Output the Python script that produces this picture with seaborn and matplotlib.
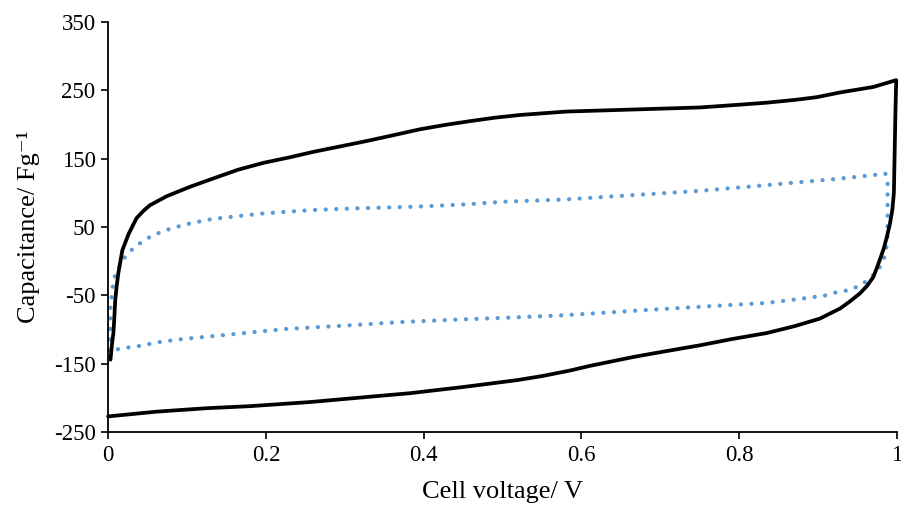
import numpy as np
import matplotlib
matplotlib.use("Agg")
import matplotlib.pyplot as plt
import seaborn as sns
import pandas as pd

# curva preta (linha cheia)
preto_v = [0.003, 0.005, 0.0067, 0.008, 0.009, 0.011, 0.013, 0.018, 0.026, 0.036, 0.045, 0.053,
           0.066, 0.074, 0.091, 0.104, 0.133, 0.165, 0.197, 0.23, 0.26, 0.324, 0.36, 0.395,
           0.43, 0.459, 0.49, 0.522, 0.581, 0.666, 0.75, 0.8, 0.835, 0.87, 0.898, 0.928,
           0.97, 0.999,
           0.998, 0.997, 0.996, 0.994, 0.991, 0.987, 0.983, 0.979, 0.975, 0.97, 0.962, 0.953,
           0.94, 0.928, 0.902, 0.87, 0.835, 0.79, 0.75, 0.7, 0.666, 0.611, 0.585, 0.55,
           0.518, 0.45, 0.383, 0.324, 0.256, 0.18, 0.125, 0.062, 0.0]
preto_c = [-144, -120, -105, -80, -57, -35, -17, 16, 40, 63, 74, 82,
           90, 95, 103, 109, 121, 134, 144, 152, 160, 175, 184, 193,
           200, 205, 210, 214, 219, 222, 225, 229, 232, 236, 240, 247,
           255, 265,
           220, 160, 100, 75, 55, 35, 18, 5, -8, -23, -36, -47,
           -59, -69, -84, -95, -105, -114, -123, -133, -140, -153, -160, -168,
           -174, -184, -193, -199, -206, -212, -215, -220, -227]

# curva azul (pontilhada)
azul_v = [0.002, 0.0025, 0.003, 0.006, 0.009, 0.015, 0.022, 0.032, 0.043, 0.055, 0.067, 0.08,
          0.091, 0.106, 0.133, 0.197, 0.26, 0.311, 0.387, 0.45, 0.501, 0.581, 0.666, 0.75,
          0.835, 0.917, 0.97, 0.985, 0.988, 0.988, 0.988, 0.988, 0.988, 0.988, 0.987, 0.985,
          0.98, 0.972, 0.962, 0.952, 0.94, 0.921, 0.9075, 0.87, 0.835, 0.75, 0.666, 0.581,
          0.505, 0.45, 0.37, 0.302, 0.226, 0.159, 0.093, 0.066, 0.039, 0.026, 0.0127, 0.002]
azul_c = [-130, -115, -67, -36, -20, -6, 7.5, 19, 28.5, 37, 42.7, 48,
          51.5, 56, 62, 70, 75, 77.3, 79.7, 83, 87, 90.5, 96.8, 103,
          111.4, 119.7, 126, 128.5, 122, 104, 87, 72, 56, 38, 24, 9,
          -5.6, -18, -28.6, -36, -42, -46, -50.5, -56, -61, -66.6, -72.5, -78.8,
          -82.7, -85, -89, -94, -99, -106.6, -114, -118, -124, -126, -128.6, -130]

x_ticks = [0, 0.2, 0.4, 0.6, 0.8, 1]
x_labels = ["0", "0.2", "0.4", "0.6", "0.8", "1"]
y_ticks = [-250, -150, -50, 50, 150, 250, 350]

df_preto = pd.DataFrame({"v": preto_v, "c": preto_c})
df_azul = pd.DataFrame({"v": azul_v, "c": azul_c})

sns.set_style("ticks")
plt.rcParams["font.family"] = ["Liberation Serif", "DejaVu Serif"]
plt.rcParams["axes.unicode_minus"] = False

fig = plt.figure(figsize=(9.01, 5.12), dpi=100)
ax = fig.add_axes([0.12, 0.156, 0.8756, 0.801])

sns.lineplot(data=df_azul, x="v", y="c", sort=False, estimator=None, ax=ax,
             color="#5B9BD5", linewidth=3.1, linestyle=(0, (0.01, 2.45)),
             dash_capstyle="round", clip_on=False)
sns.lineplot(data=df_preto, x="v", y="c", sort=False, estimator=None, ax=ax,
             color="black", linewidth=2.7, clip_on=False)

ax.set_xlim(0, 1)
ax.set_ylim(-250, 350)
ax.set_xticks(x_ticks)
ax.set_xticklabels(x_labels)
ax.set_yticks(y_ticks)
ax.tick_params(labelsize=16.5, length=5, width=1.2, pad=4, color="black", labelcolor="black")
for s in ["left", "bottom"]:
    ax.spines[s].set_color("black")
    ax.spines[s].set_linewidth(1.3)
sns.despine(ax=ax)

ax.set_xlabel("Cell voltage/ V", fontsize=19, color="black")
ax.set_ylabel("Capacitance/ Fg\u207b\u00b9", fontsize=19, color="black")
ax.yaxis.set_label_coords(-0.086, 0.5)
ax.xaxis.set_label_coords(0.5, -0.118)

fig.savefig("out.png", dpi=100)
